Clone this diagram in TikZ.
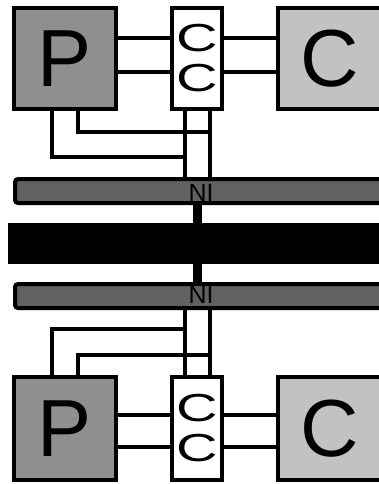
\documentclass[tikz,border=0pt]{standalone}
\usepackage{fontspec}
\setmainfont{Liberation Sans}
\usepackage{tikz}
\usetikzlibrary{positioning, calc}

\definecolor{procgray}{gray}{0.56}
\definecolor{cachegray}{gray}{0.76}
\definecolor{nigray}{gray}{0.38}

\newcommand{\ccletter}{\scalebox{1.25}[0.85]{C}}

\begin{document}
\begin{tikzpicture}[x=1pt, y=-1pt,
  box/.style={draw, line width=4pt, inner sep=0pt, minimum height=101pt},
  proc/.style={box, fill=procgray, minimum width=102pt, font=\fontsize{81}{81}\selectfont},
  cache/.style={box, fill=cachegray, minimum width=104pt, font=\fontsize{81}{81}\selectfont},
  ccbox/.style={box, fill=white, minimum width=50pt, align=center, font=\fontsize{46}{40}\selectfont},
  nibar/.style={draw, line width=4pt, fill=nigray, rounded corners=3pt, anchor=west,
    minimum width=400pt, minimum height=24pt, inner sep=0pt},
  nitext/.style={inner sep=0pt, font=\fontsize{25}{25}\selectfont},
  wire/.style={line width=4pt},
  link/.style={line width=9pt}]
\useasboundingbox (0,0) rectangle (378,484);
% upper node: processor, cache controller, cache
\node[proc] (pTop) at (65,58.5) {P};
\node[ccbox] (ccTop) at (197,58.5) {\ccletter\\\ccletter};
\node[cache] (cTop) at (330,58.5) {C};
% lower node
\node[proc, minimum height=103pt] (pBot) at (65,428.5) {P};
\node[ccbox, minimum height=103pt] (ccBot) at (197,428.5) {\ccletter\\\ccletter};
\node[cache, minimum height=103pt] (cBot) at (330,428.5) {C};
% network interfaces and the interconnect between them
\node[nibar] (niTop) at (13,191) {};
\node[nibar] (niBot) at (13,296) {};
\draw[link] (ccTop |- niTop.south) -- (ccTop |- niBot.north);
\node[fill=black, anchor=west, minimum width=380pt, minimum height=41pt, inner sep=0pt] (bus) at (8,243.5) {};
\node[nitext] (niTopLbl) at (201,193) {NI};
\node[nitext] (niBotLbl) at (201,295) {NI};
% P -- CC -- C wires
\draw[wire] ([yshift=20pt]pTop.east) -- ([yshift=20pt]ccTop.west);
\draw[wire] ([yshift=-14pt]pTop.east) -- ([yshift=-14pt]ccTop.west);
\draw[wire] ([yshift=20pt]ccTop.east) -- ([yshift=20pt]cTop.west);
\draw[wire] ([yshift=-14pt]ccTop.east) -- ([yshift=-14pt]cTop.west);
\draw[wire] ([yshift=14pt]pBot.east) -- ([yshift=14pt]ccBot.west);
\draw[wire] ([yshift=-18pt]pBot.east) -- ([yshift=-18pt]ccBot.west);
\draw[wire] ([yshift=14pt]ccBot.east) -- ([yshift=14pt]cBot.west);
\draw[wire] ([yshift=-18pt]ccBot.east) -- ([yshift=-18pt]cBot.west);
% CC -- NI wires
\coordinate (ccTopL) at ([xshift=-12pt]ccTop.south);
\coordinate (ccTopR) at ([xshift=13pt]ccTop.south);
\coordinate (ccBotL) at ([xshift=-12pt]ccBot.north);
\coordinate (ccBotR) at ([xshift=13pt]ccBot.north);
\draw[wire] (ccTopL) -- (ccTopL |- niTop.north);
\draw[wire] (ccTopR) -- (ccTopR |- niTop.north);
\draw[wire] (ccBotL) -- (ccBotL |- niBot.south);
\draw[wire] (ccBotR) -- (ccBotR |- niBot.south);
% P taps onto the CC wires
\coordinate (tapTopA) at (185,157);
\coordinate (tapTopB) at (210,132);
\coordinate (tapBotA) at (185,329);
\coordinate (tapBotB) at (210,355);
\draw[wire] ([xshift=-13pt]pTop.south) |- (tapTopA);
\draw[wire] ([xshift=13pt]pTop.south) |- (tapTopB);
\draw[wire] ([xshift=-13pt]pBot.north) |- (tapBotA);
\draw[wire] ([xshift=13pt]pBot.north) |- (tapBotB);
\end{tikzpicture}
\end{document}
